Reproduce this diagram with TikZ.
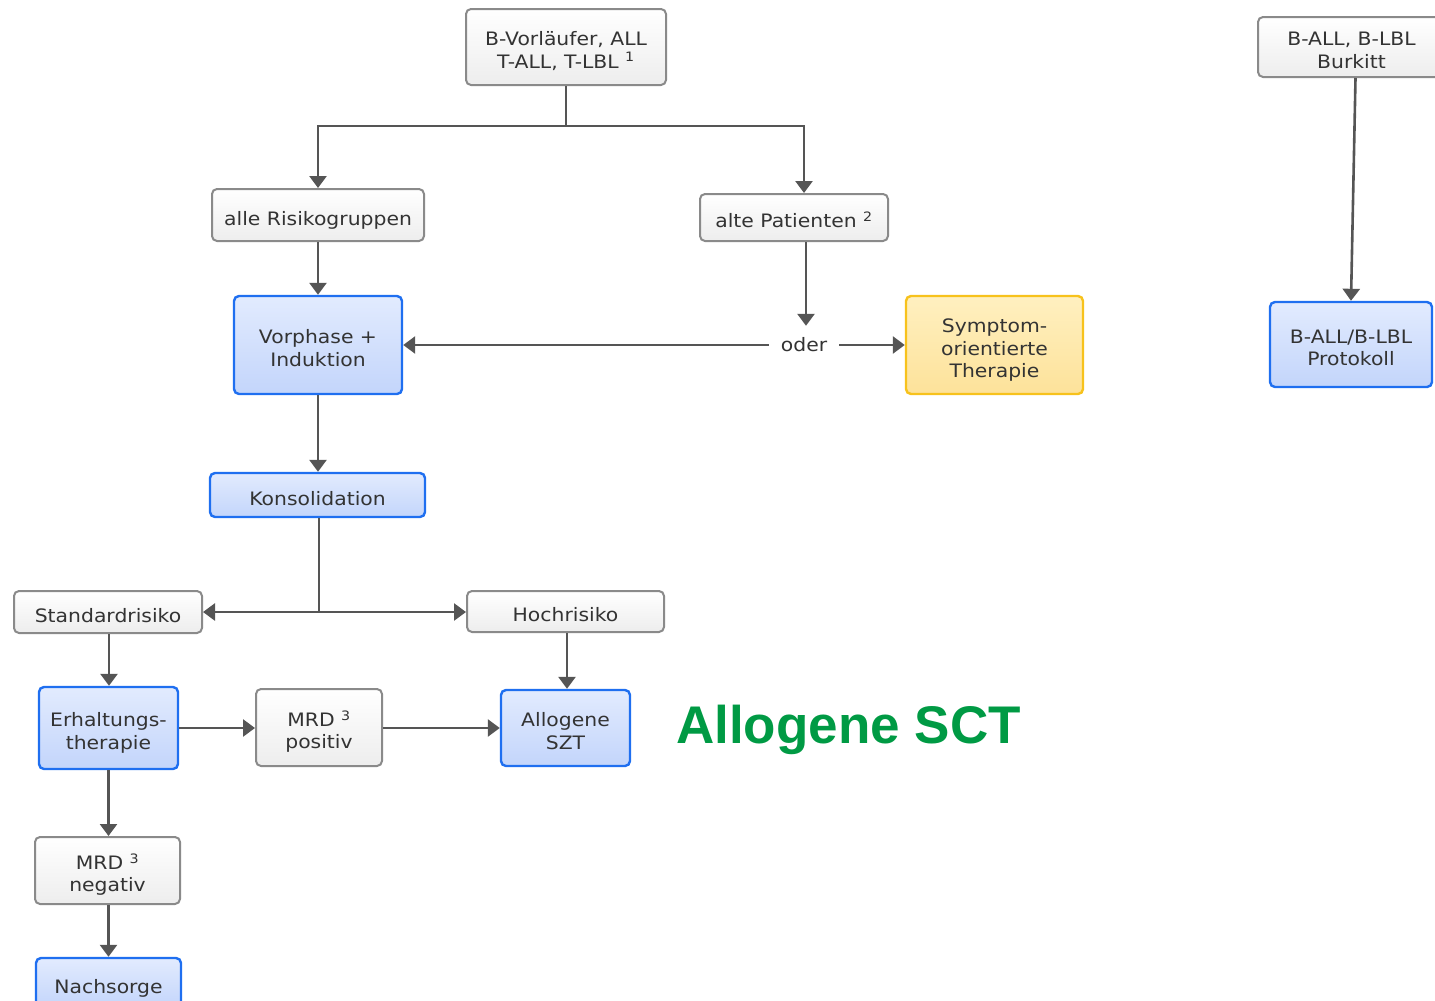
\documentclass[tikz,border=0pt]{standalone}
\usepackage{fontspec}
\setmainfont{DejaVu Sans}[FakeStretch=1.1]
\newfontfamily\arialbold{Liberation Sans}
\usetikzlibrary{arrows.meta}
\definecolor{txt}{HTML}{333333}
\definecolor{greyline}{HTML}{8A8A8A}
\definecolor{conn}{HTML}{555555}
\definecolor{blueline}{HTML}{1F6FF0}
\definecolor{bluetop}{HTML}{E2EBFE}
\definecolor{bluebot}{HTML}{C3D5FB}
\definecolor{yellline}{HTML}{F7C21C}
\definecolor{yelltop}{HTML}{FFF0C0}
\definecolor{yellbot}{HTML}{FDE29A}
\definecolor{sctgreen}{HTML}{009A44}
\newcommand\boxtext[1]{\raisebox{-5.5pt}[\height][\depth]{\begin{tabular}{@{}c@{}}#1\end{tabular}}}
\tikzset{
  base/.style={rectangle, rounded corners=5pt, inner sep=0pt,
    text=txt, font=\fontsize{18.5}{22.5}\selectfont},
  greybox/.style={base, draw=greyline, line width=2pt, top color=white, bottom color=black!7},
  bluebox/.style={base, draw=blueline, line width=2.4pt, top color=bluetop, bottom color=bluebot},
  yellbox/.style={base, draw=yellline, line width=2.4pt, top color=yelltop, bottom color=yellbot},
  conn/.style={draw=conn, line width=2.6pt},
  arr/.style={conn, -{Triangle[width=17pt,length=12pt]}},
}
\begin{document}
\begin{tikzpicture}[x=1pt,y=-1pt]
\useasboundingbox (0,0) rectangle (1435,1001);
\begin{scope}
\clip (0,0) rectangle (1435,1001);
% nodes
\node[greybox, minimum width=200, minimum height=76] (top) at (566,47) {\boxtext{B-Vorläufer, ALL\\T-ALL, T-LBL \textsuperscript{1}}};
\node[greybox, minimum width=212, minimum height=52] (risk) at (318,215) {\boxtext{alle Risikogruppen}};
\node[greybox, minimum width=188, minimum height=47] (alte) at (794,217.5) {\boxtext{alte Patienten \textsuperscript{2}}};
\node[bluebox, minimum width=168, minimum height=98] (vorph) at (318,345) {\boxtext{Vorphase +\\Induktion}};
\node[inner sep=0pt, minimum width=70, minimum height=38, text=txt, font=\fontsize{18.5}{22.5}\selectfont] (oder) at (804,345) {oder};
\node[yellbox, minimum width=177, minimum height=98] (symp) at (994.5,345) {\boxtext{Symptom-\\orientierte\\Therapie}};
\node[greybox, minimum width=187, minimum height=60] (ball) at (1351.5,47) {\boxtext{B-ALL, B-LBL\\Burkitt}};
\node[bluebox, minimum width=162, minimum height=85] (prot) at (1351,344.5) {\boxtext{B-ALL/B-LBL\\Protokoll}};
\node[bluebox, minimum width=215, minimum height=44] (kons) at (317.5,495) {\boxtext{Konsolidation}};
\node[greybox, minimum width=188, minimum height=42] (std) at (108,612) {\boxtext{Standardrisiko}};
\node[greybox, minimum width=197, minimum height=41] (hoch) at (565.5,611.5) {\boxtext{Hochrisiko}};
\node[bluebox, minimum width=139, minimum height=82] (erh) at (108.5,728) {\boxtext{Erhaltungs-\\therapie}};
\node[greybox, minimum width=126, minimum height=77] (mrdp) at (319,727.5) {\boxtext{MRD \textsuperscript{3}\\positiv}};
\node[bluebox, minimum width=129, minimum height=76] (allo) at (565.5,728) {\boxtext{Allogene\\SZT}};
\node[greybox, minimum width=145, minimum height=67] (mrdn) at (107.5,870.5) {\boxtext{MRD \textsuperscript{3}\\negativ}};
\node[bluebox, minimum width=145, minimum height=50] (nach) at (108.5,983) {\boxtext{Nachsorge}};
\node[inner sep=0pt, text=sctgreen, font=\arialbold\bfseries\fontsize{53}{60}\selectfont] (sct) at (848.5,730) {Allogene SCT};
% connectors
\coordinate (j1) at (566,126);
\draw[conn] (top.south) -- (j1);
\draw[arr] (j1) -| (risk.north);
\draw[arr] (j1) -| ([xshift=10pt]alte.north);
\draw[arr] (risk.south) -- (risk.south |- vorph.north);
\draw[arr] ([xshift=12pt]alte.south) -- ([xshift=12pt]alte.south |- oder.north);
\draw[arr] (oder.west) -- (vorph.east);
\draw[arr] (oder.east) -- (symp.west);
\draw[arr] ([xshift=4pt]ball.south) -- (prot.north);
\draw[arr] (vorph.south) -- (vorph.south |- kons.north);
\coordinate (j2) at (319,612);
\draw[conn] (j2 |- kons.south) -- (j2);
\draw[arr] (j2) -- (std.east);
\draw[arr] (j2) -- (j2 -| hoch.west);
\draw[arr] ([xshift=1pt]std.south) -- ([xshift=1pt]std.south |- erh.north);
\draw[arr] ([xshift=1.5pt]hoch.south) -- ([xshift=1.5pt]hoch.south |- allo.north);
\draw[arr] (erh.east) -- (erh.east -| mrdp.west);
\draw[arr] (allo.west -| mrdp.east) -- (allo.west);
\draw[arr] (erh.south) -- (erh.south |- mrdn.north);
\draw[arr] (nach.north |- mrdn.south) -- (nach.north);
\end{scope}
\end{tikzpicture}
\end{document}
